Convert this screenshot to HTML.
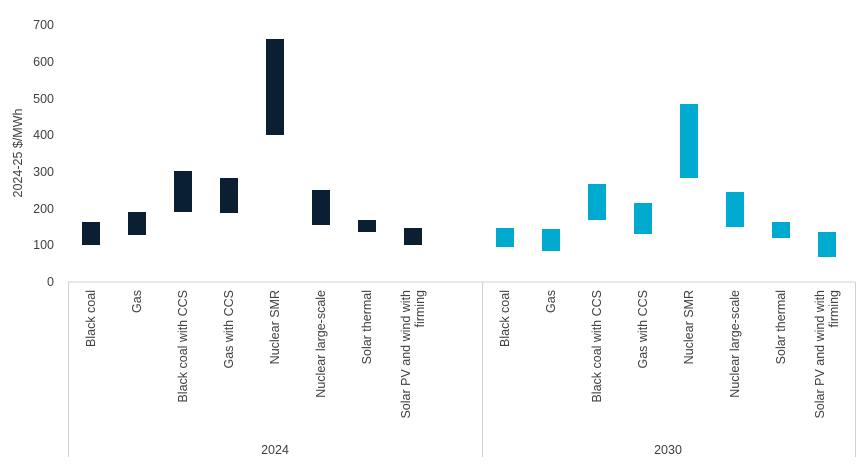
<!DOCTYPE html>
<html><head><meta charset="utf-8"><style>body{margin:0;background:#fff}</style></head><body>
<svg width="865" height="467" xmlns="http://www.w3.org/2000/svg" font-family="Liberation Sans, sans-serif" font-size="12.5" fill="#404040">
<g text-anchor="end">
<text x="54" y="286">0</text><text x="54" y="249">100</text><text x="54" y="213">200</text><text x="54" y="176">300</text><text x="54" y="139">400</text><text x="54" y="103">500</text><text x="54" y="66">600</text><text x="54" y="29">700</text>
</g>
<text transform="translate(22,153) rotate(-90)" text-anchor="middle">2024-25 $/MWh</text>
<g stroke="#d0d0d0" stroke-width="1">
<line x1="68" y1="282" x2="855" y2="282"/>
<line x1="68.5" y1="282" x2="68.5" y2="457"/>
<line x1="482.5" y1="282" x2="482.5" y2="457"/>
<line x1="855.5" y1="282" x2="855.5" y2="457"/>
</g>
<g fill="#0b1f33">
<rect x="82" y="222" width="18" height="23"/>
<rect x="128" y="212" width="18" height="23"/>
<rect x="174" y="171" width="18" height="41"/>
<rect x="220" y="178" width="18" height="35"/>
<rect x="266" y="39" width="18" height="96"/>
<rect x="312" y="190" width="18" height="35"/>
<rect x="358" y="220" width="18" height="12"/>
<rect x="404" y="228" width="18" height="17"/>
</g>
<g fill="#00aacf">
<rect x="496" y="228" width="18" height="19"/>
<rect x="542" y="229" width="18" height="22"/>
<rect x="588" y="184" width="18" height="36"/>
<rect x="634" y="203" width="18" height="31"/>
<rect x="680" y="104" width="18" height="74"/>
<rect x="726" y="192" width="18" height="35"/>
<rect x="772" y="222" width="18" height="16"/>
<rect x="818" y="232" width="18" height="25"/>
</g>
<g text-anchor="end">
<text transform="translate(95,290) rotate(-90)">Black coal</text>
<text transform="translate(141,290) rotate(-90)">Gas</text>
<text transform="translate(187,290) rotate(-90)">Black coal with CCS</text>
<text transform="translate(233,290) rotate(-90)">Gas with CCS</text>
<text transform="translate(279,290) rotate(-90)">Nuclear SMR</text>
<text transform="translate(325,290) rotate(-90)">Nuclear large-scale</text>
<text transform="translate(371,290) rotate(-90)">Solar thermal</text>
<text transform="translate(410,290) rotate(-90)">Solar PV and wind with</text>
<text transform="translate(424,290) rotate(-90)">firming</text>
<text transform="translate(509,290) rotate(-90)">Black coal</text>
<text transform="translate(555,290) rotate(-90)">Gas</text>
<text transform="translate(601,290) rotate(-90)">Black coal with CCS</text>
<text transform="translate(647,290) rotate(-90)">Gas with CCS</text>
<text transform="translate(693,290) rotate(-90)">Nuclear SMR</text>
<text transform="translate(739,290) rotate(-90)">Nuclear large-scale</text>
<text transform="translate(785,290) rotate(-90)">Solar thermal</text>
<text transform="translate(824,290) rotate(-90)">Solar PV and wind with</text>
<text transform="translate(838,290) rotate(-90)">firming</text>
</g>
<text x="275" y="454" text-anchor="middle">2024</text>
<text x="668" y="454" text-anchor="middle">2030</text>
</svg>
</body></html>
